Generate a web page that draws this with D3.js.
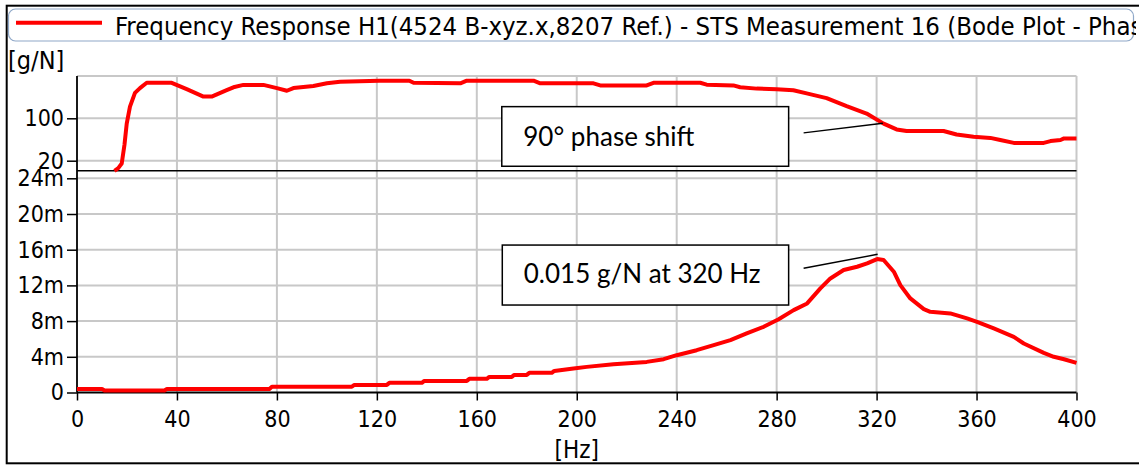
<!DOCTYPE html>
<html>
<head>
<meta charset="utf-8">
<script src="https://cdn.jsdelivr.net/npm/d3@7"></script>
<style>
  html, body { margin: 0; padding: 0; background: #fff; }
  svg { display: block; }
  .ax text { font-family: "DejaVu Sans Condensed", "DejaVu Sans", sans-serif; font-size: 23px; fill: #000; }
</style>
</head>
<body>
<svg id="chart" width="1139" height="465"></svg>
<script>
// ---- data ----
const legendLabel = "Frequency Response H1(4524 B-xyz.x,8207 Ref.) - STS Measurement 16 (Bode Plot - Phase)";
const yUnitLabel = "[g/N]";
const xUnitLabel = "[Hz]";
const xTickValues = [0, 40, 80, 120, 160, 200, 240, 280, 320, 360, 400];
const topTickValues = [20, 100];
const topGridValues = [20, 100, 180];
const bottomTickValues = [0, 0.004, 0.008, 0.012, 0.016, 0.020, 0.024];
const bottomTickLabels = ["0", "4m", "8m", "12m", "16m", "20m", "24m"];

// upper panel (phase-like trace)
const topFreq = [15, 16.5, 17.9, 19.0, 19.9, 21.2, 23.2, 25.2, 27.9, 37.9, 43.9, 50.6, 53.9, 59.9, 62.6, 66.6, 74.6, 80, 84, 86.6, 94.6, 100, 105.3, 121, 133, 134.7, 153.4, 156, 182.7, 185.4, 206.7, 209.4, 228, 230.7, 249.4, 252, 262.7, 265.4, 272, 280, 286.7, 292, 300, 308, 316, 322.8, 328, 332, 346.8, 352, 358.8, 365.5, 369.5, 374.9, 386.9, 389.6, 393.6, 395, 400];
const topValues = [1, 6, 14.6, 50, 90, 122, 148, 157, 167, 167, 155, 141, 141, 153, 158.5, 163, 163, 157, 152, 157, 161, 166, 169, 171, 171, 167, 166, 171, 171, 166, 166, 162, 162, 167, 167, 163.5, 162, 158.5, 156, 155, 153, 147, 138, 123, 109, 90, 79, 76, 76, 69.5, 65, 63, 59, 53.6, 53.6, 57, 59, 62, 62];

// lower panel (magnitude, g/N)
const bottomFreq = [0, 10, 11, 35, 36, 77, 78, 110, 111, 124, 125, 138, 139, 156, 157, 164, 165, 174, 175, 180, 181, 190, 191, 198.7, 204, 214.7, 228, 234.8, 240, 248, 254.8, 261.5, 268, 274.8, 280.8, 286.8, 292.2, 297.5, 301.5, 306.8, 312.2, 316.2, 320.2, 322.8, 326.9, 329.5, 333.5, 338.9, 341.5, 349.5, 356.2, 360.2, 366.9, 374.9, 378.9, 386.9, 390.9, 395, 400];
const bottomValues = [0.0004, 0.0004, 0.00022, 0.00022, 0.0004, 0.0004, 0.00065, 0.00065, 0.00085, 0.00085, 0.00108, 0.00108, 0.0013, 0.0013, 0.00153, 0.00153, 0.00175, 0.00175, 0.00197, 0.00197, 0.0022, 0.0022, 0.00242, 0.00269, 0.00287, 0.00317, 0.00343, 0.00373, 0.00418, 0.00474, 0.0053, 0.00587, 0.00662, 0.00736, 0.0082, 0.00923, 0.00998, 0.01166, 0.01278, 0.01372, 0.01409, 0.01447, 0.01495, 0.01484, 0.01353, 0.01203, 0.01054, 0.00934, 0.00904, 0.00886, 0.0083, 0.00792, 0.00718, 0.00624, 0.00549, 0.00444, 0.004, 0.00373, 0.00332];

const annotationTexts = ["90° phase shift", "0.015 g/N at 320 Hz"];

// ---- layout ----
const svg = d3.select("#chart");
const x = d3.scaleLinear().domain([0, 400]).range([77, 1076.5]);
const yTop = d3.scaleLinear().domain([0, 180]).range([171.3, 75.9]);
const yBot = d3.scaleLinear().domain([0, 0.024]).range([392.5, 178.3]);
const sepY = 170.7;
const gridColor = "#c8c8c8";

// outer frame
svg.append("rect").attr("x", 6.7).attr("y", 5.7).attr("width", 1150).attr("height", 457.6)
  .attr("fill", "none").attr("stroke", "#000").attr("stroke-width", 2);

// legend
svg.append("defs").append("clipPath").attr("id", "legclip")
  .append("rect").attr("x", 0).attr("y", 0).attr("width", 1136).attr("height", 60);
svg.append("rect").attr("x", 8.5).attr("y", 9).attr("width", 1125).attr("height", 32).attr("rx", 7)
  .attr("fill", "#fff").attr("stroke", "#8fa8c8").attr("stroke-width", 1.2);
svg.append("line").attr("x1", 16).attr("x2", 102).attr("y1", 22.7).attr("y2", 22.7)
  .attr("stroke", "#ff0000").attr("stroke-width", 4);
svg.append("text").attr("x", 115).attr("y", 35).attr("clip-path", "url(#legclip)")
  .attr("font-family", "'DejaVu Sans Condensed', 'DejaVu Sans', sans-serif").attr("font-size", 25.5)
  .text(legendLabel);

// unit label
svg.append("text").attr("x", 8).attr("y", 68.5)
  .attr("font-family", "'DejaVu Sans Condensed', 'DejaVu Sans', sans-serif").attr("font-size", 25)
  .text(yUnitLabel);

// grid: vertical
const grid = svg.append("g").attr("stroke", gridColor).attr("stroke-width", 2);
grid.selectAll("line.v").data(xTickValues.filter(d => d > 0)).join("line").attr("class", "v")
  .attr("x1", d => x(d)).attr("x2", d => x(d)).attr("y1", yTop(180)).attr("y2", yBot(0));
grid.selectAll("line.ht").data(topGridValues).join("line").attr("class", "ht")
  .attr("x1", x(0)).attr("x2", x(400)).attr("y1", d => yTop(d)).attr("y2", d => yTop(d));
grid.selectAll("line.hb").data(bottomTickValues.filter(d => d > 0)).join("line").attr("class", "hb")
  .attr("x1", x(0)).attr("x2", x(400)).attr("y1", d => yBot(d)).attr("y2", d => yBot(d));

// separator
svg.append("line").attr("x1", x(0)).attr("x2", x(400)).attr("y1", sepY).attr("y2", sepY)
  .attr("stroke", "#000").attr("stroke-width", 1.5);

// axes
const styleAxis = g => {
  g.attr("class", "ax");
  g.select(".domain").remove();
  g.selectAll(".tick line").attr("stroke", "#000").attr("stroke-width", 1.5);
};
svg.append("g").attr("transform", `translate(${x(0)},0)`)
  .call(d3.axisLeft(yTop).tickValues(topTickValues).tickSize(10).tickPadding(3).tickFormat(d3.format("d")))
  .call(styleAxis);
svg.append("g").attr("transform", `translate(${x(0)},0)`)
  .call(d3.axisLeft(yBot).tickValues(bottomTickValues).tickSize(10).tickPadding(3)
    .tickFormat((d, i) => bottomTickLabels[i]))
  .call(styleAxis);
const xa = svg.append("g").attr("transform", `translate(0,${yBot(0)})`)
  .call(d3.axisBottom(x).tickValues(xTickValues).tickSize(8).tickPadding(3))
  .call(styleAxis);
xa.selectAll(".tick text").attr("y", 34).attr("dy", 0);

// axis lines
svg.append("line").attr("x1", x(0)).attr("x2", x(0)).attr("y1", yTop(180)).attr("y2", yBot(0))
  .attr("stroke", "#000").attr("stroke-width", 1.8);
svg.append("line").attr("x1", x(0)).attr("x2", x(400)).attr("y1", yBot(0)).attr("y2", yBot(0))
  .attr("stroke", "#000").attr("stroke-width", 1.8);

svg.append("text").attr("x", (x(0) + x(400)) / 2).attr("y", 458).attr("text-anchor", "middle")
  .attr("font-family", "'DejaVu Sans Condensed', 'DejaVu Sans', sans-serif").attr("font-size", 24)
  .text(xUnitLabel);

// curves
const topData = topFreq.map((f, i) => [f, topValues[i]]);
const botData = bottomFreq.map((f, i) => [f, bottomValues[i]]);
svg.append("path").datum(topData)
  .attr("d", d3.line().x(d => x(d[0])).y(d => yTop(d[1])))
  .attr("fill", "none").attr("stroke", "#ff0000").attr("stroke-width", 4).attr("stroke-linejoin", "round");
svg.append("path").datum(botData)
  .attr("d", d3.line().x(d => x(d[0])).y(d => yBot(d[1])))
  .attr("fill", "none").attr("stroke", "#ff0000").attr("stroke-width", 4).attr("stroke-linejoin", "round");

// annotations
const annFont = "Lato, 'Open Sans', sans-serif";
const boxes = [
  { x0: 170, x1: 284.8, y0: yTop(122), y1: yTop(9.5), base: yTop(47.5), text: annotationTexts[0],
    lx: 290.8, ly: yTop(72.5), tx: 322.5, ty: yTop(90.5) },
  { x0: 170.2, x1: 284.8, y0: yBot(0.01652), y1: yBot(0.00980), base: yBot(0.01230), text: annotationTexts[1],
    lx: 290.8, ly: yBot(0.01391), tx: 320.4, ty: yBot(0.01548) }
];
boxes.forEach(b => {
  svg.append("rect").attr("x", x(b.x0)).attr("y", b.y0).attr("width", x(b.x1) - x(b.x0)).attr("height", b.y1 - b.y0)
    .attr("fill", "#fff").attr("stroke", "#000").attr("stroke-width", 1.5);
  svg.append("text").attr("x", x(b.x0) + 21.5).attr("y", b.base)
    .attr("font-family", annFont).attr("font-size", 26).text(b.text);
  svg.append("line").attr("x1", x(b.lx)).attr("y1", b.ly).attr("x2", x(b.tx)).attr("y2", b.ty)
    .attr("stroke", "#000").attr("stroke-width", 1.5);
});
</script>
</body>
</html>
